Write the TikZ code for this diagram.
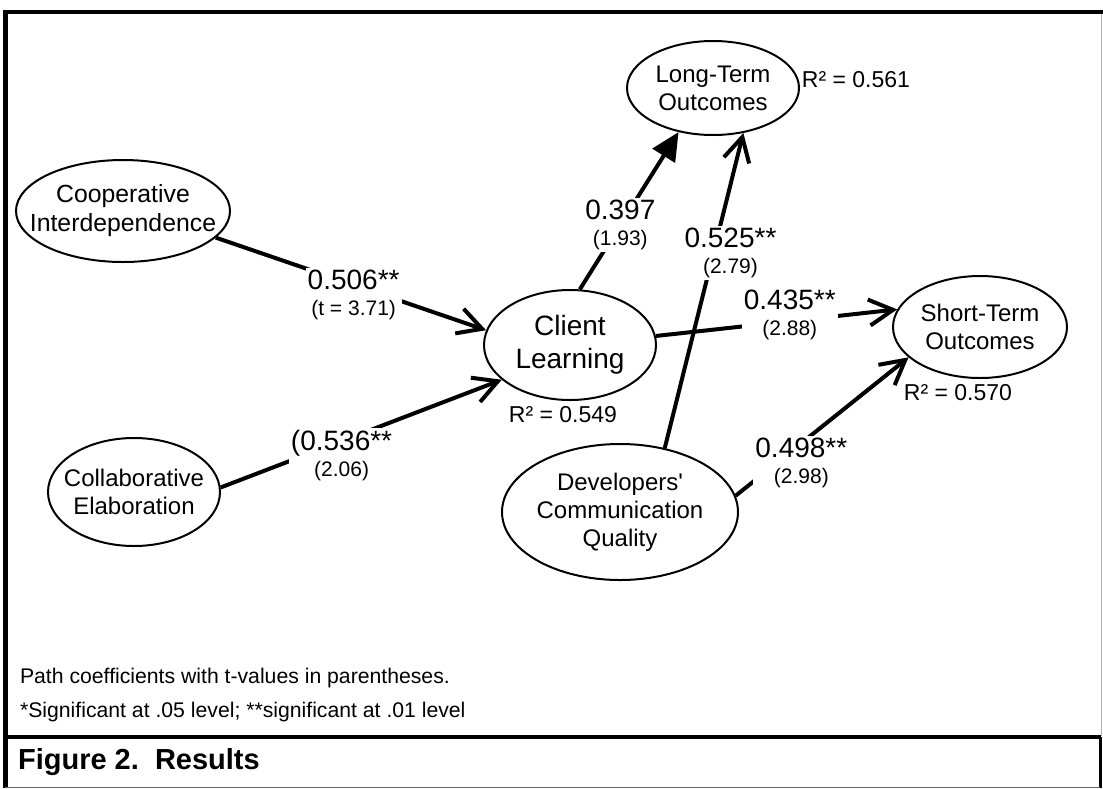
\documentclass[tikz,border=0pt]{standalone}
\usepackage{fontspec}
\setmainfont{Liberation Sans}
\usetikzlibrary{shapes, arrows.meta}
\tikzstyle{construct} = [ellipse, draw=black, line width=1pt, inner sep=0pt]
\tikzstyle{inside} = [align=center, font=\fontsize{12}{14}\selectfont]
\tikzstyle{arrow} = [line width=2pt, -{Straight Barb[length=12pt,width=13pt]}]
\tikzstyle{bigarrow} = [line width=2pt, -{Triangle[length=14pt,width=13pt]}]
\tikzstyle{coef} = [fill=white, inner sep=1pt, align=center, font=\fontsize{10.5}{13}\selectfont]
\tikzstyle{rsq} = [font=\fontsize{11.5}{13}\selectfont]
\tikzstyle{note} = [anchor=west, font=\fontsize{10.6}{13}\selectfont]
\newcommand{\pathcoef}[2]{{\fontsize{14}{14}\selectfont #1}\\{#2}}

\begin{document}
\begin{tikzpicture}[x=0.5pt,y=-0.5pt]
\useasboundingbox (0,0) rectangle (1103,788);
% frame
\draw[line width=2pt] (3,12) -- (1103,12);
\draw[line width=2.5pt] (5,10) -- (5,788);
\draw[line width=0.3pt, black!30] (1101,14) -- (1101,736);
\draw[line width=1.8pt] (5,737) -- (1101,737);
\draw[line width=1.5pt] (1100,737) -- (1100,788);
\draw[line width=0.5pt, black!60] (5,787) -- (1100,787);

% constructs
\node[construct, minimum width=107pt, minimum height=51pt,
  label={[inside, font=\fontsize{12.4}{14.5}\selectfont]center:Cooperative\\Interdependence}] (coop) at (123,211) {};
\node[construct, minimum width=86pt, minimum height=54pt,
  label={[inside]center:Collaborative\\Elaboration}] (collab) at (134,492) {};
\node[construct, minimum width=86pt, minimum height=55pt,
  label={[inside, font=\fontsize{14}{16.5}\selectfont]center:Client\\Learning}] (client) at (570,345) {};
\node[construct, minimum width=86pt, minimum height=47pt,
  label={[inside]center:Long-Term\\Outcomes}] (longterm) at (713,88) {};
\node[construct, minimum width=87pt, minimum height=51pt,
  label={[inside]center:Short-Term\\Outcomes}] (shortterm) at (980,327) {};
\node[construct, minimum width=118pt, minimum height=68pt,
  label={[inside]center:Developers\textquotesingle\\Communication\\Quality}] (devcomm) at (620,512) {};

% explained variance
\node[rsq] (rlong) at (856,80) {R² = 0.561};
\node[rsq] (rclient) at (563,415) {R² = 0.549};
\node[rsq] (rshort) at (958,393) {R² = 0.570};

% paths
\draw[arrow] (coop.-16) -- node[coef, pos=0.51, yshift=-5pt] {\pathcoef{0.506**}{(t = 3.71)}} (client.170);
\draw[arrow] (collab.3) -- node[coef, pos=0.43, yshift=-7pt] {\pathcoef{(0.536**}{(2.06)}} (client.207);
\draw[bigarrow] (client.80) -- node[coef, pos=0.41] {\pathcoef{0.397}{(1.93)}} (longterm.232);
\draw[arrow] (client.6) -- node[coef, pos=0.555, yshift=3pt] {\pathcoef{0.435**}{(2.88)}} (shortterm.168);
\draw[arrow] (devcomm.55) -- node[coef, pos=0.62, xshift=8.5pt] {\pathcoef{0.525**}{(2.79)}} (longterm.304);
\draw[arrow] (devcomm.8) -- node[coef, pos=0.38, yshift=-10pt] {\pathcoef{0.498**}{(2.98)}} (shortterm.203);

% notes
\node[note] (note1) at (13,678) {Path coefficients with t-values in parentheses.};
\node[note] (note2) at (13,712) {*Significant at .05 level; **significant at .01 level};
\node[note, font=\bfseries\fontsize{14.5}{16}\selectfont] (caption) at (11,762) {Figure 2.\ \ Results};
\end{tikzpicture}
\end{document}
